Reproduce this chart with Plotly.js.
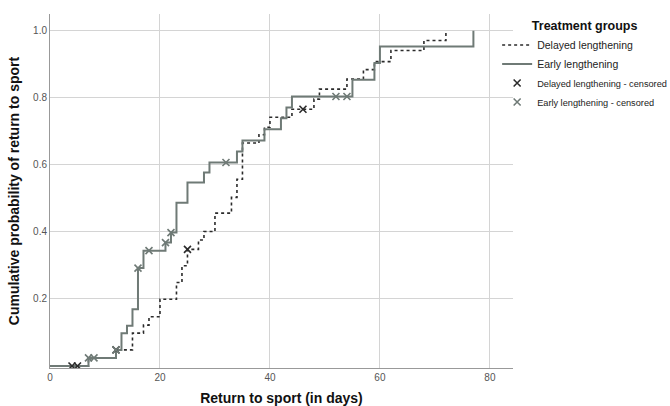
<!DOCTYPE html>
<html>
<head>
<meta charset="utf-8">
<script src="https://cdn.plot.ly/plotly-3.0.1.min.js"></script>
<style>html,body{margin:0;padding:0;background:#fff;}#chart{width:670px;height:406px;}</style>
</head>
<body>
<div id="chart"></div>
<script>
// Step points (day, cumulative probability)
var delayedDays = [0, 7, 12, 15, 17, 18, 20, 23, 24, 25, 27, 28, 30, 33, 34, 35, 38, 39, 40, 44, 48, 49, 54, 57, 59, 62, 68, 72];
var delayedProb = [0, 0.024, 0.048, 0.098, 0.122, 0.147, 0.199, 0.249, 0.299, 0.348, 0.376, 0.401, 0.456, 0.503, 0.557, 0.665, 0.690, 0.712, 0.742, 0.766, 0.796, 0.826, 0.856, 0.884, 0.908, 0.941, 0.971, 1.0];
var earlyDays = [0, 7, 12, 13, 14, 15, 16, 17, 21, 22, 23, 25, 28, 29, 34, 35, 39, 42, 43, 44, 55, 59, 60, 77];
var earlyProb = [0, 0.024, 0.048, 0.098, 0.120, 0.169, 0.292, 0.344, 0.368, 0.398, 0.487, 0.547, 0.577, 0.607, 0.640, 0.673, 0.706, 0.739, 0.771, 0.804, 0.854, 0.904, 0.953, 1.0];
// Censored observations
var delayedCensDays = [4, 5, 12, 25, 46];
var delayedCensProb = [0, 0, 0.048, 0.348, 0.766];
var earlyCensDays = [7, 8, 12, 16, 18, 21, 22, 32, 52, 54];
var earlyCensProb = [0.024, 0.024, 0.048, 0.292, 0.344, 0.368, 0.398, 0.607, 0.804, 0.804];
// Tick labels
var xTicks = [0, 20, 40, 60, 80];
var yTicks = [0.2, 0.4, 0.6, 0.8, 1.0];
var yTickText = ['0.2', '0.4', '0.6', '0.8', '1.0'];

var earlyColor = '#6f7a76';
var delayedColor = '#2b2b2b';

var traces = [
  {x: delayedDays, y: delayedProb, type: 'scatter', mode: 'lines', name: 'Delayed lengthening',
   line: {shape: 'hv', color: delayedColor, width: 1.6, dash: 'dot'}},
  {x: earlyDays, y: earlyProb, type: 'scatter', mode: 'lines', name: 'Early lengthening',
   line: {shape: 'hv', color: earlyColor, width: 2}},
  {x: delayedCensDays, y: delayedCensProb, type: 'scatter', mode: 'markers',
   name: '<span style="font-size:9.2px">Delayed lengthening - censored</span>',
   marker: {symbol: 'x-thin-open', size: 7, color: delayedColor, line: {width: 1.6, color: delayedColor}}},
  {x: earlyCensDays, y: earlyCensProb, type: 'scatter', mode: 'markers',
   name: '<span style="font-size:9.2px">Early lengthening - censored</span>',
   marker: {symbol: 'x-thin-open', size: 7, color: earlyColor, line: {width: 1.6, color: earlyColor}}}
];

var layout = {
  width: 670, height: 406,
  margin: {l: 50, r: 157, t: 14, b: 38, autoexpand: false},
  paper_bgcolor: '#fff', plot_bgcolor: '#fff',
  font: {family: 'Liberation Sans, Arial, sans-serif', color: '#333'},
  showlegend: true,
  legend: {
    xref: 'container', yref: 'container',
    x: 0.742, xanchor: 'left', y: 0.965, yanchor: 'top',
    title: {text: '<b>Treatment groups</b>', side: 'top center', font: {size: 12.5, color: '#111'}},
    font: {size: 10.5, color: '#222'},
    tracegroupgap: 0, itemwidth: 30, bgcolor: 'rgba(0,0,0,0)'
  },
  xaxis: {
    range: [0, 84.2], tickvals: xTicks, ticktext: xTicks.map(String),
    showgrid: true, gridcolor: '#d4d4d4', gridwidth: 1, zeroline: false,
    showline: true, linecolor: '#999', linewidth: 1, ticks: '',
    tickfont: {size: 10, color: '#555'},
    title: {text: '<b>Return to sport (in days)</b>', font: {size: 14, color: '#111'}, standoff: 11}
  },
  yaxis: {
    range: [-0.006, 1.05], tickvals: yTicks, ticktext: yTickText,
    showgrid: true, gridcolor: '#d4d4d4', gridwidth: 1, zeroline: false,
    showline: true, linecolor: '#999', linewidth: 1, ticks: '',
    tickfont: {size: 10, color: '#555'},
    title: {text: '<b>Cumulative probability of return to sport</b>', font: {size: 14, color: '#111'}, standoff: 10}
  }
};

Plotly.newPlot('chart', traces, layout, {displayModeBar: false, staticPlot: true});
</script>
</body>
</html>
